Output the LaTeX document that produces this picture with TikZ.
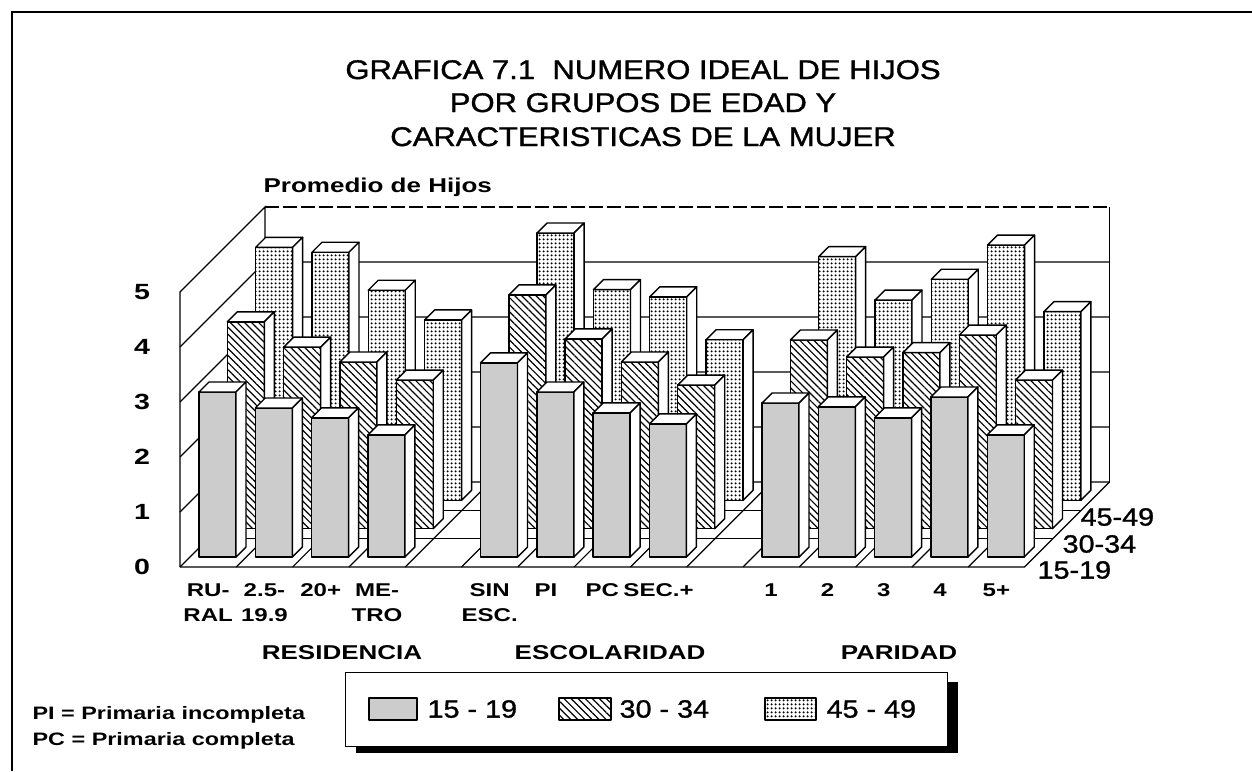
\documentclass[tikz,border=0pt]{standalone}
\usepackage{fontspec}
\setmainfont{Liberation Sans}
\newfontfamily\hgtitulo[FakeStretch=1.15,FakeBold=1.2]{Liberation Sans}
\newfontfamily\hgnegra[FakeStretch=1.3]{Liberation Sans}
\usetikzlibrary{patterns.meta}

% columna 3D: fila, casilla, valor, relleno
\newcommand{\columna}[4]{%
  \pgfmathsetmacro{\cx}{199+56.3*#2+28.33*#1}%
  \pgfmathsetmacro{\cy}{557-28.33*#1}%
  \pgfmathsetmacro{\ct}{\cy-55*#3}%
  \draw[cara,#4] (\cx,\cy) rectangle (\cx+37,\ct);
  \draw[cara,fill=white] (\cx,\ct) -- ++(37,0) -- ++(10,-10) -- ++(-37,0) -- cycle;
  \draw[cara,fill=white] (\cx+37,\cy) -- ++(10,-10) -- (\cx+47,\ct-10) -- (\cx+37,\ct) -- cycle;
}

\begin{document}
\begin{tikzpicture}[
  x=1pt, y=-1pt, line width=1.2pt,
  cara/.style={line width=1.4pt, line join=round},
  fila15/.style={fill=black!20},
  fila30/.style={preaction={fill=white}, pattern={Lines[angle=-45, distance=5pt, line width=1.2pt]}},
  fila45/.style={preaction={fill=white}, pattern={Dots[distance=4pt, radius=1.3pt]}},
  titulo/.style={font=\hgtitulo\fontsize{27}{33}\selectfont, anchor=base, inner sep=0pt},
  eje/.style={font=\hgnegra\bfseries\fontsize{22}{22}\selectfont, inner sep=0pt},
  etiq/.style={font=\hgnegra\bfseries\fontsize{18.5}{25}\selectfont, align=center, anchor=north, inner sep=0pt},
  grupo/.style={font=\hgnegra\bfseries\fontsize{20}{24}\selectfont, anchor=base, inner sep=0pt},
  nota/.style={font=\hgnegra\bfseries\fontsize{18}{26}\selectfont, anchor=base west, inner sep=0pt},
  leyenda/.style={font=\hgtitulo\fontsize{25}{25}\selectfont, anchor=west, inner sep=0pt},
]
  \useasboundingbox (0,0) rectangle (1252,771);
  \draw[line width=1.8pt] (12,771) -- (12,12) -- (1252,12);

  \node[titulo] (tit1) at (643,79) {GRAFICA 7.1\ \ NUMERO IDEAL DE HIJOS};
  \node[titulo] (tit2) at (643,112) {POR GRUPOS DE EDAD Y};
  \node[titulo] (tit3) at (643,146) {CARACTERISTICAS DE LA MUJER};
  \node[grupo, anchor=base west] (prom) at (263,192) {Promedio de Hijos};

  % paredes y piso
  \draw (180,567) -- (180,292) -- (265,207) -- (265,482);
  \draw[dash pattern=on 14pt off 4pt] (265,207) -- (1109.5,207);
  \draw (1109.5,207) -- (1109.5,482);
  \foreach \l in {0,...,4}
    \draw (180,567-55*\l) -- ++(85,-85) -- (1109.5,482-55*\l);
  \draw (180,567) -- (1024.5,567) -- ++(85,-85);
  \foreach \r in {1,2}
    \draw (180+28.33*\r,567-28.33*\r) -- ++(844.5,0);
  \foreach \k in {1,...,14}
    \draw (180+56.3*\k,567) -- ++(85,-85);

  \foreach \k/\v in {0/4.6,1/4.51,2/3.82,3/3.28,5/4.86,6/3.83,7/3.70,8/2.92,10/4.43,11/3.64,12/4.02,13/4.64,14/3.43}
    \columna{2}{\k}{\v}{fila45};
  \foreach \k/\v in {0/3.76,1/3.30,2/3.03,3/2.70,5/4.25,6/3.45,7/3.03,8/2.61,10/3.43,11/3.12,12/3.2,13/3.52,14/2.7}
    \columna{1}{\k}{\v}{fila30};
  \foreach \k/\v in {0/3.0,1/2.71,2/2.53,3/2.22,5/3.53,6/3.0,7/2.62,8/2.42,10/2.8,11/2.73,12/2.53,13/2.91,14/2.22}
    \columna{0}{\k}{\v}{fila15};

  \foreach \n in {0,...,5}
    \node[eje] (y\n) at (142,567-55*\n) {\n};
  \foreach \k/\t in {0/{RU-\\RAL},1/{2.5-\\19.9},2/{20+},3/{ME-\\TRO},5/{SIN\\ESC.},6/PI,7/PC,8/{SEC.+},10/1,11/2,12/3,13/4,14/5+}
    \node[etiq] (cat\k) at (208.15+56.3*\k,583) {\t};

  \node[leyenda] (p15) at (1037,570) {15-19};
  \node[leyenda] (p30) at (1062,544) {30-34};
  \node[leyenda] (p45) at (1080,517) {45-49};

  \node[grupo] (res) at (342,659) {RESIDENCIA};
  \node[grupo] (esc) at (610,659) {ESCOLARIDAD};
  \node[grupo] (par) at (899,659) {PARIDAD};

  % leyenda
  \fill (356,682) rectangle (958,753);
  \draw[fill=white, line width=1pt] (345,672) rectangle (947,746);
  \draw[cara,fila15] (369,698) rectangle (417,720);
  \draw[cara,fila30] (559,698) rectangle (611,720);
  \draw[cara,fila45] (765,698) rectangle (816,720);
  \node[leyenda] (l15) at (427,709) {15 - 19};
  \node[leyenda] (l30) at (619,709) {30 - 34};
  \node[leyenda] (l45) at (826,709) {45 - 49};

  \node[nota] (n1) at (32,719) {PI = Primaria incompleta};
  \node[nota] (n2) at (32,745) {PC = Primaria completa};
\end{tikzpicture}
\end{document}
